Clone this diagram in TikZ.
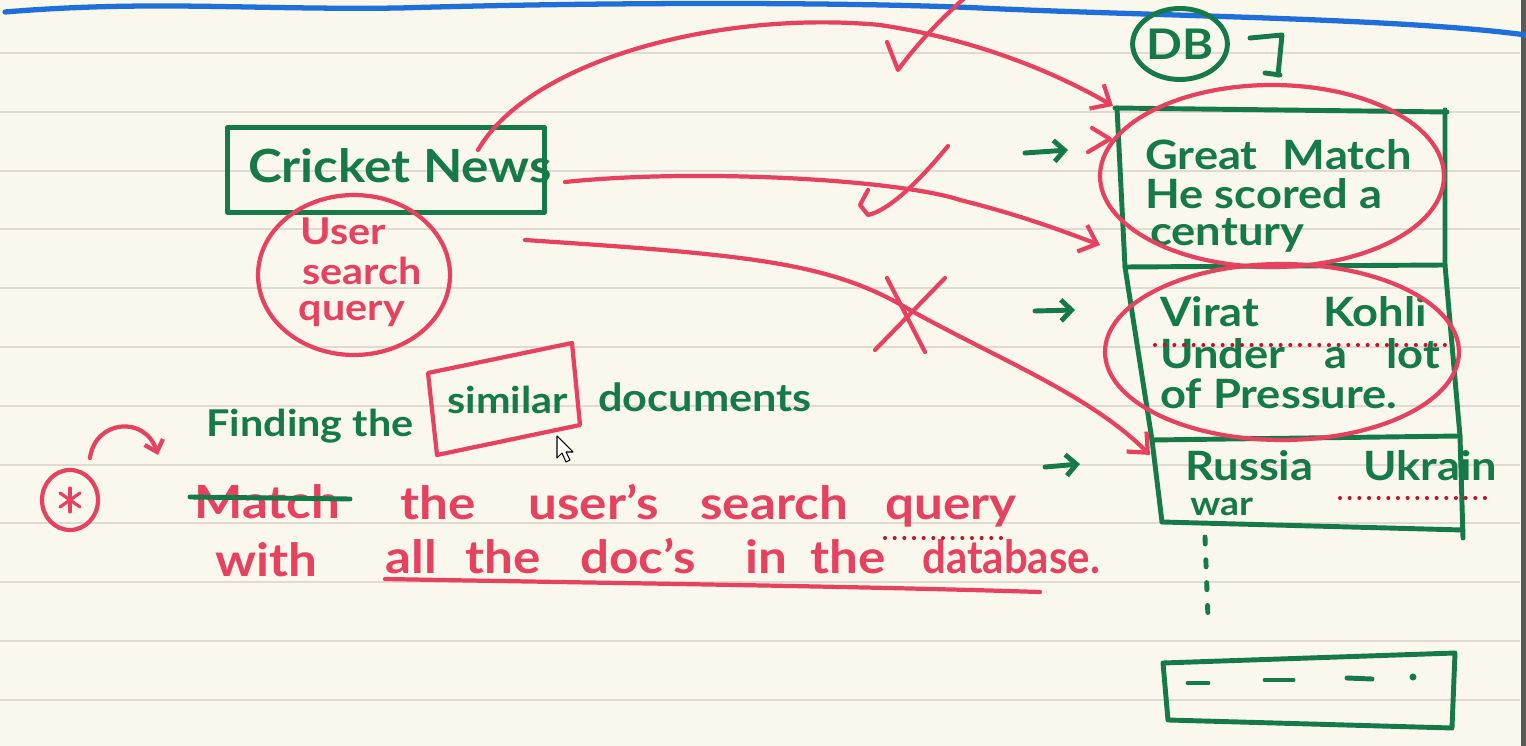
\documentclass[tikz,border=0pt]{standalone}
\usepackage{fontspec}
\setmainfont{Lato}[FakeStretch=1.12]
\usetikzlibrary{arrows.meta,shapes.geometric}
\definecolor{paper}{HTML}{FAF7EC}
\definecolor{ruleclr}{HTML}{DFDBD2}
\definecolor{gr}{HTML}{157A48}
\definecolor{rd}{HTML}{E6425F}
\definecolor{dotred}{HTML}{C4122E}
\definecolor{bl}{HTML}{1F6FDB}
\begin{document}
\begin{tikzpicture}[x=0.02cm,y=-0.02cm,
  gline/.style={draw=gr,line width=2.8pt,line cap=round,line join=round},
  rline/.style={draw=rd,line width=2.4pt,line cap=round,line join=round},
  rarrow/.style={rline,-{Straight Barb[length=9pt,width=16pt]}},
  garrow/.style={gline,-{Straight Barb[length=6pt,width=12pt]}},
  reddots/.style={draw=dotred,line width=2.3pt,line cap=round,dash pattern=on 0pt off 5.5pt},
  gtext/.style={text=gr,font=\fontsize{23}{26}\selectfont\bfseries,inner sep=0pt,anchor=base west},
  rtext/.style={text=rd,font=\fontsize{26}{30}\selectfont\bfseries,inner sep=0pt,anchor=base west},
  qtext/.style={text=rd,font=\fontsize{21}{24}\selectfont\bfseries,inner sep=0pt,anchor=base},
]
% paper
\fill[paper] (0,0) rectangle (1526,746);
\useasboundingbox (0,0) rectangle (1526,746);
\foreach \k in {0,...,11}
  \draw[ruleclr,line width=1.2pt] (0,{53+58.8*\k}) -- (1520,{53+58.8*\k});
\fill[black!65] (1521,0) rectangle (1526,746);
% blue margin line
\draw[bl,line width=3pt,line cap=round] (5,12) .. controls (150,0) and (250,10) .. (400,8)
  .. controls (600,2) and (850,2) .. (980,8) .. controls (1150,16) and (1400,18) .. (1526,35);

% query box
\node[gline,draw,rectangle,minimum width=6.34cm,minimum height=1.7cm,inner sep=0pt] (cnbox) at (386,170) {};
\node[gtext,font=\fontsize{26}{30}\selectfont\bfseries,anchor=center] (cn) at (400,166) {Cricket News};

% user search query
\node[draw=rd,line width=2.4pt,ellipse,minimum width=3.84cm,minimum height=3.2cm] (uq) at (354,275) {};
\node[qtext] (u1) at (343,245) {User};
\node[qtext] (u2) at (362,285) {search};
\node[qtext] (u3) at (352,321) {query};

% DB header
\node[draw=gr,line width=2.8pt,ellipse,minimum width=1.56cm,minimum height=1.42cm,inner sep=0pt,
      text=gr,font=\fontsize{24}{28}\selectfont\bfseries] (db) at (1180,44) {DB};
\draw[gline] (1250,38) -- (1282,35) -- (1278,75);
\draw[gline] (1265,73) -- (1280,75);

% DB stack
\coordinate (tl) at (1115,108);
\coordinate (tr) at (1447,112);
\coordinate (m1l) at (1125,267);
\coordinate (m1r) at (1445,265);
\coordinate (m2l) at (1152,440);
\coordinate (m2r) at (1460,436);
\coordinate (bl) at (1162,522);
\coordinate (br) at (1463,530);
\draw[gline] (tl) -- (tr);
\draw[gline] (1117,108) -- (m1l) -- (m2l) -- (bl);
\draw[gline] (1445,110) -- (m1r) -- (m2r) -- (1463,538);
\draw[gline] (m1l) -- (m1r);
\draw[gline] (m2l) -- (m2r);
\draw[gline] (bl) -- (br);

\node[gtext] (d1a) at (1145,170) {Great\hspace{8pt} Match};
\node[gtext] (d1b) at (1145,209) {He scored a};
\node[gtext] (d1c) at (1150,246) {century};
\node[gtext] (d2a) at (1160,327) {Virat\hspace{30pt} Kohli};
\node[gtext] (d2b) at (1160,369) {Under\hspace{16pt} a\hspace{16pt} lot};
\node[gtext] (d2c) at (1160,409) {of Pressure.};
\node[gtext] (d3a) at (1185,481) {Russia\hspace{22pt} Ukrain};
\node[gtext,font=\fontsize{19}{22}\selectfont\bfseries] (d3b) at (1190,516) {war};

\draw[reddots] (1155,345) -- (1445,345);
\draw[reddots] (1340,498) -- (1487,498);

% red ellipses around matches
\draw[rline] (1272,176) ellipse [x radius=3.44cm, y radius=1.82cm];
\draw[rline] (1282,352) ellipse [x radius=3.54cm, y radius=1.76cm];
\draw[rline] (1092,128) -- (1110,139) -- (1088,152);

% continuation
\draw[gline,dash pattern=on 4pt off 9pt] (1205,537) -- (1208,618);
\draw[gline] (1163,663) -- (1455,653) -- (1452,728) -- (1168,720) -- cycle;
\draw[gline] (1188,683) -- (1208,683);
\draw[gline] (1265,680) -- (1293,680);
\draw[gline] (1347,678) -- (1372,679);
\fill[gr] (1413,677) circle (2pt);

% green row arrows
\coordinate (g1s) at (1025,153); \coordinate (g1e) at (1068,150);
\coordinate (g2s) at (1035,311); \coordinate (g2e) at (1075,310);
\coordinate (g3s) at (1045,467); \coordinate (g3e) at (1080,464);
\draw[garrow] (g1s) -- (g1e);
\draw[garrow] (g2s) -- (g2e);
\draw[garrow] (g3s) -- (g3e);

% red connectors from the query to the documents
\coordinate (a1s) at (478,150); \coordinate (a1e) at (1113,106);
\coordinate (a2s) at (565,182); \coordinate (a2e) at (1100,245);
\coordinate (a3s) at (525,240); \coordinate (a3e) at (1150,455);
\draw[rarrow] (a1s) .. controls (530,60) and (720,10) .. (880,25)
  .. controls (980,40) and (1060,75) .. (a1e);
\draw[rarrow] (a2s) .. controls (700,168) and (900,180) .. (960,200)
  .. controls (1020,215) and (1060,230) .. (a2e);
\draw[rarrow] (a3s) .. controls (750,255) and (830,262) .. (910,310)
  .. controls (1000,360) and (1090,395) .. (a3e);

% ticks and cross
\draw[rline] (887,42) -- (898,70) .. controls (920,40) and (945,15) .. (968,-5);
\draw[rline] (868,190) -- (860,205) -- (868,215) .. controls (890,210) and (920,180) .. (948,146);
\draw[rline] (875,350) -- (945,278);
\draw[rline] (887,278) -- (925,352);

% finding the similar documents
\node[gtext,font=\fontsize{21}{24}\selectfont\bfseries] (f1) at (206,437) {Finding the};
\node[gtext,font=\fontsize{21}{24}\selectfont\bfseries] (f2) at (447,414) {similar};
\node[gtext,font=\fontsize{22}{25}\selectfont\bfseries] (f3) at (598,412) {documents};
\draw[rline] (428,373) -- (572,343) -- (580,425) -- (437,455) -- cycle;
% cursor
\draw[black,line width=0.6pt,fill=white,line join=round] (557,436) -- (557,458) -- (562,453) -- (566,462) -- (570,460) -- (566,452) -- (573,452) -- cycle;

% note
\draw[rline] (70,500) ellipse [x radius=0.56cm, y radius=0.6cm];
\draw[rline,line width=1.8pt] (70,488) -- (70,512);
\draw[rline,line width=1.8pt] (60,493) -- (80,507);
\draw[rline,line width=1.8pt] (60,507) -- (80,493);
\coordinate (cs) at (90,458); \coordinate (ce) at (158,455);
\draw[rline,-{Straight Barb[length=6pt,width=11pt]}] (cs) .. controls (95,420) and (145,415) .. (ce);

\node[rtext] (m0) at (194,519) {Match};
\draw[gline] (190,497) -- (350,499);
\node[rtext] (m1) at (400,520) {the};
\node[rtext] (m2) at (528,520) {user's};
\node[rtext] (m3) at (700,520) {search};
\node[rtext] (m4) at (885,520) {query};
\node[rtext] (w0) at (215,577) {with};
\node[rtext] (w1) at (385,574) {all};
\node[rtext] (w2) at (465,574) {the};
\node[rtext] (w3) at (580,574) {doc's};
\node[rtext] (w4) at (745,574) {in};
\node[rtext] (w5) at (810,574) {the};
\node[rtext] (w6) at (922,574) {\scalebox{0.82}[1]{database.}};
\draw[reddots] (885,538) -- (1005,538);
\draw[rline] (385,579) .. controls (600,583) and (850,586) .. (1040,592);
\end{tikzpicture}
\end{document}
